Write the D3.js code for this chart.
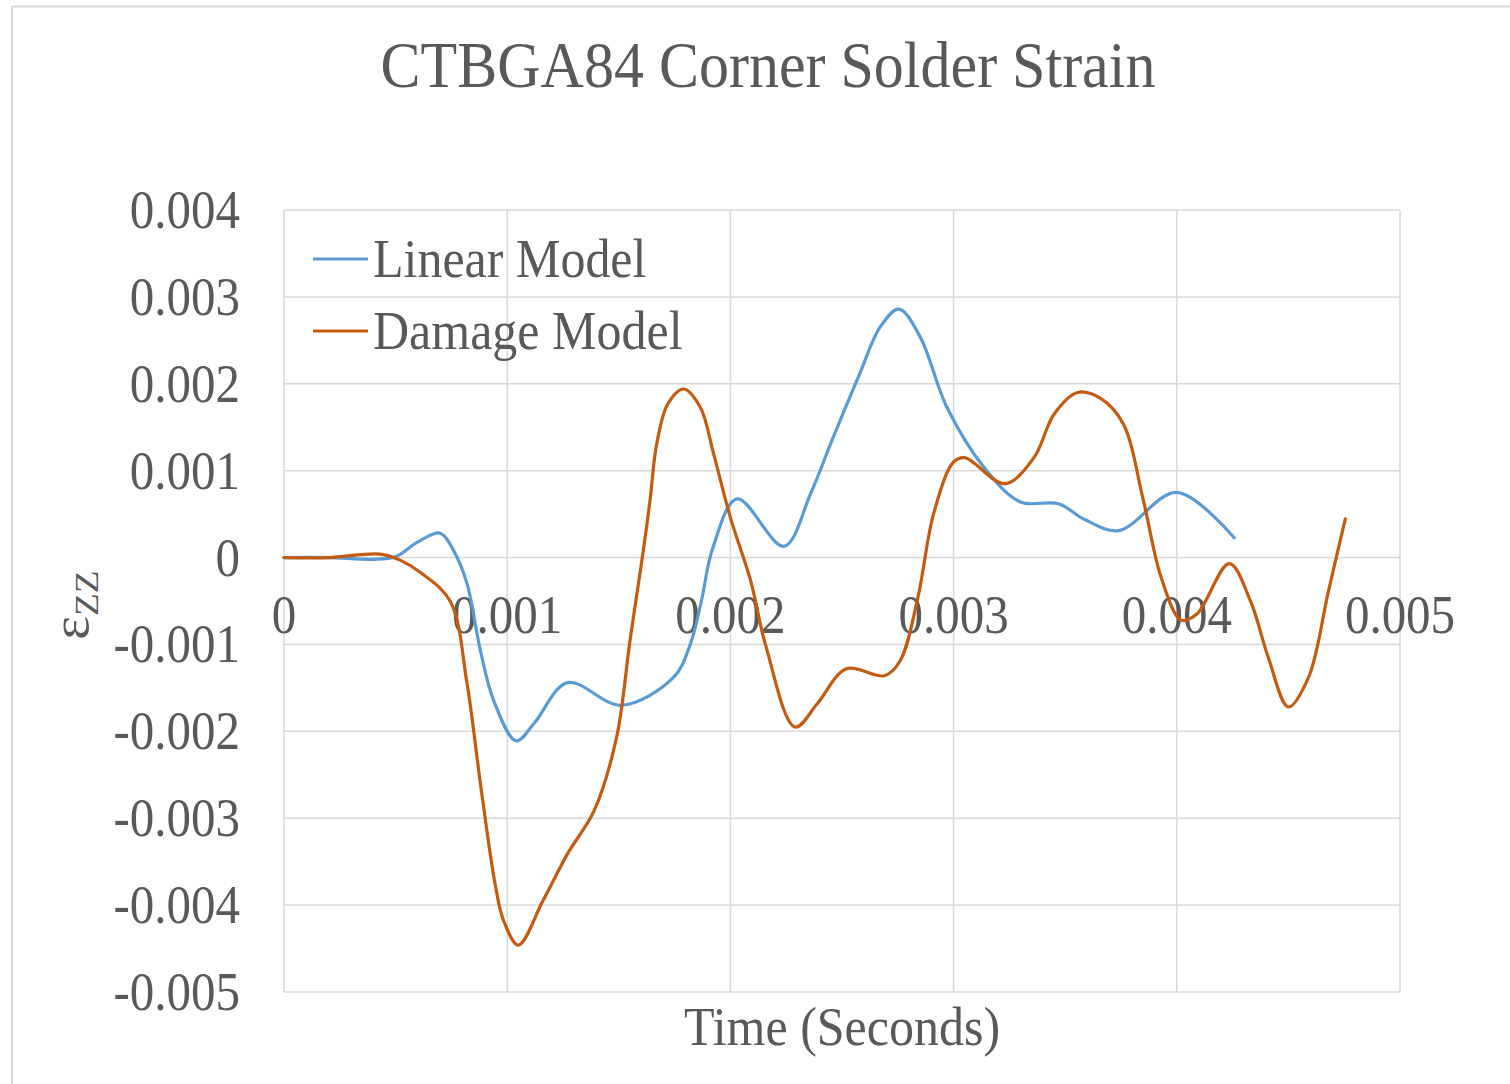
<!DOCTYPE html>
<html>
<head>
<meta charset="utf-8">
<script src="https://cdn.jsdelivr.net/npm/d3@7"></script>
<style>
  html, body { margin: 0; padding: 0; background: #fff; }
  svg { display: block; }
  text { font-family: "Liberation Serif", "Times New Roman", serif; fill: #595959; }
</style>
</head>
<body>
<svg id="chart" width="1510" height="1084"></svg>
<script>
// Corner solder joint strain over time, two material models
const linearTime = [0, 0.0002, 0.0004, 0.0005, 0.0006, 0.0007, 0.00076, 0.00082, 0.00088, 0.00094,
  0.00104, 0.00112, 0.00127, 0.00151, 0.001745, 0.00182, 0.00187, 0.00192, 0.00203, 0.00224, 0.00236,
  0.00246, 0.00258, 0.00267, 0.002755, 0.00285, 0.00297, 0.003136, 0.0033, 0.00347, 0.003585,
  0.00374, 0.0040, 0.004257];
const linearStrain = [0, 0, -0.00002, 0.00001, 0.00018, 0.00028, 0.00008, -0.0003, -0.00107, -0.00165,
  -0.00211, -0.00191, -0.00144, -0.0017, -0.00138, -0.001, -0.0005, 0.0001, 0.000675, 0.00013, 0.00074,
  0.00138, 0.00212, 0.00265, 0.00286, 0.00254, 0.00173, 0.00104, 0.00064, 0.00062, 0.00044,
  0.00031, 0.00075, 0.000227];

const damageTime = [0, 0.0002, 0.00043, 0.00052, 0.00061, 0.000744, 0.00082, 0.00088, 0.000946, 0.000984, 0.00105,
  0.00116, 0.00127, 0.00139, 0.00149, 0.00155, 0.00161, 0.00164, 0.00167, 0.00172, 0.00179, 0.001865, 0.001925, 0.002,
  0.00209, 0.00216, 0.00229, 0.00239, 0.00252, 0.00269, 0.00276, 0.00284, 0.00291, 0.0030,
  0.00305, 0.00323, 0.00336, 0.00345, 0.003555, 0.00366, 0.00376, 0.00385, 0.00393, 0.00402,
  0.00409, 0.004235, 0.00433, 0.00441, 0.0045, 0.00459, 0.00468, 0.004755];
const damageStrain = [0, 0, 0.00004, -0.00003, -0.00017, -0.0005, -0.00145, -0.0026, -0.00376, -0.00418, -0.00446,
  -0.00395, -0.00341, -0.00291, -0.00207, -0.00096, 0.00008, 0.00066, 0.00131, 0.00177, 0.00194, 0.00173, 0.00119, 0.00046,
  -0.00026, -0.00103, -0.00195, -0.00168, -0.00128, -0.00136, -0.00119, -0.00046, 0.0005, 0.0011,
  0.00115, 0.00085, 0.00115, 0.00165, 0.0019, 0.00183, 0.00154, 0.00066, -0.00023, -0.00072,
  -0.00065, -0.00007, -0.0005, -0.00115, -0.00172, -0.00138, -0.00038, 0.000445];

const xTicks = [0, 0.001, 0.002, 0.003, 0.004, 0.005];
const xTickLabels = ["0", "0.001", "0.002", "0.003", "0.004", "0.005"];
const yTicks = [0.004, 0.003, 0.002, 0.001, 0, -0.001, -0.002, -0.003, -0.004, -0.005];
const yTickLabels = ["0.004", "0.003", "0.002", "0.001", "0", "-0.001", "-0.002", "-0.003", "-0.004", "-0.005"];

const seriesNames = ["Linear Model", "Damage Model"];
const seriesColors = ["#5B9BD5", "#C55A11"];

const svg = d3.select("#chart");
const plot = { left: 284, right: 1400, top: 210, bottom: 992 };
const textScaleY = 1.1;

const x = d3.scaleLinear().domain([0, 0.005]).range([plot.left, plot.right]);
const y = d3.scaleLinear().domain([-0.005, 0.004]).range([plot.bottom, plot.top]);

// outer chart frame (top and left edges visible)
svg.append("line").attr("x1", 12).attr("x2", 1510).attr("y1", 6.5).attr("y2", 6.5)
  .attr("stroke", "#d9d9d9").attr("stroke-width", 2);
svg.append("line").attr("x1", 12).attr("x2", 12).attr("y1", 6).attr("y2", 1084)
  .attr("stroke", "#d9d9d9").attr("stroke-width", 2);

// a helper for vertically stretched serif text
function label(g, tx, ty, str, size, anchor) {
  return g.append("text")
    .attr("transform", `translate(${tx},${ty}) scale(1,${textScaleY})`)
    .attr("text-anchor", anchor)
    .style("font-size", size + "px")
    .text(str);
}

// title
label(svg, 768, 87, "CTBGA84 Corner Solder Strain", 60, "middle");

// gridlines
const grid = svg.append("g");
grid.selectAll("line.h").data(yTicks).join("line")
  .attr("x1", plot.left).attr("x2", plot.right)
  .attr("y1", d => y(d)).attr("y2", d => y(d))
  .attr("stroke", "#d9d9d9").attr("stroke-width", 1.5);
grid.selectAll("line.v").data(xTicks).join("line")
  .attr("x1", d => x(d)).attr("x2", d => x(d))
  .attr("y1", plot.top).attr("y2", plot.bottom)
  .attr("stroke", "#d9d9d9").attr("stroke-width", 1.5);

// y tick labels
const yLab = svg.append("g");
yTicks.forEach((d, i) => label(yLab, 240, y(d) + 18, yTickLabels[i], 49, "end"));

// x tick labels sit just below the zero line
const xLab = svg.append("g");
xTicks.forEach((d, i) => label(xLab, x(d), 633, xTickLabels[i], 49, "middle"));

// axis titles
label(svg, 842, 1045, "Time (Seconds)", 50, "middle");
const yt = svg.append("text")
  .attr("transform", `translate(88,640) rotate(-90) scale(${textScaleY},1)`)
  .attr("text-anchor", "start")
  .style("font-size", "52px");
yt.append("tspan").text("ε");
yt.append("tspan").attr("dy", 10).style("font-size", "34px").text("ZZ");

// series lines
const line = d3.line()
  .x(d => x(d[0]))
  .y(d => y(d[1]))
  .curve(d3.curveCatmullRom.alpha(0.5));

const series = [
  d3.zip(linearTime, linearStrain),
  d3.zip(damageTime, damageStrain)
];

svg.append("g").selectAll("path").data(series).join("path")
  .attr("d", line)
  .attr("fill", "none")
  .attr("stroke", (d, i) => seriesColors[i])
  .attr("stroke-width", 3.2)
  .attr("stroke-linejoin", "round")
  .attr("stroke-linecap", "round");

// legend
const legend = svg.append("g");
seriesNames.forEach((name, i) => {
  const ly = 259 + i * 72;
  legend.append("line").attr("x1", 313).attr("x2", 368).attr("y1", ly).attr("y2", ly)
    .attr("stroke", seriesColors[i]).attr("stroke-width", 3.2);
  label(legend, 373, ly + 18, name, 50, "start");
});
</script>
</body>
</html>
